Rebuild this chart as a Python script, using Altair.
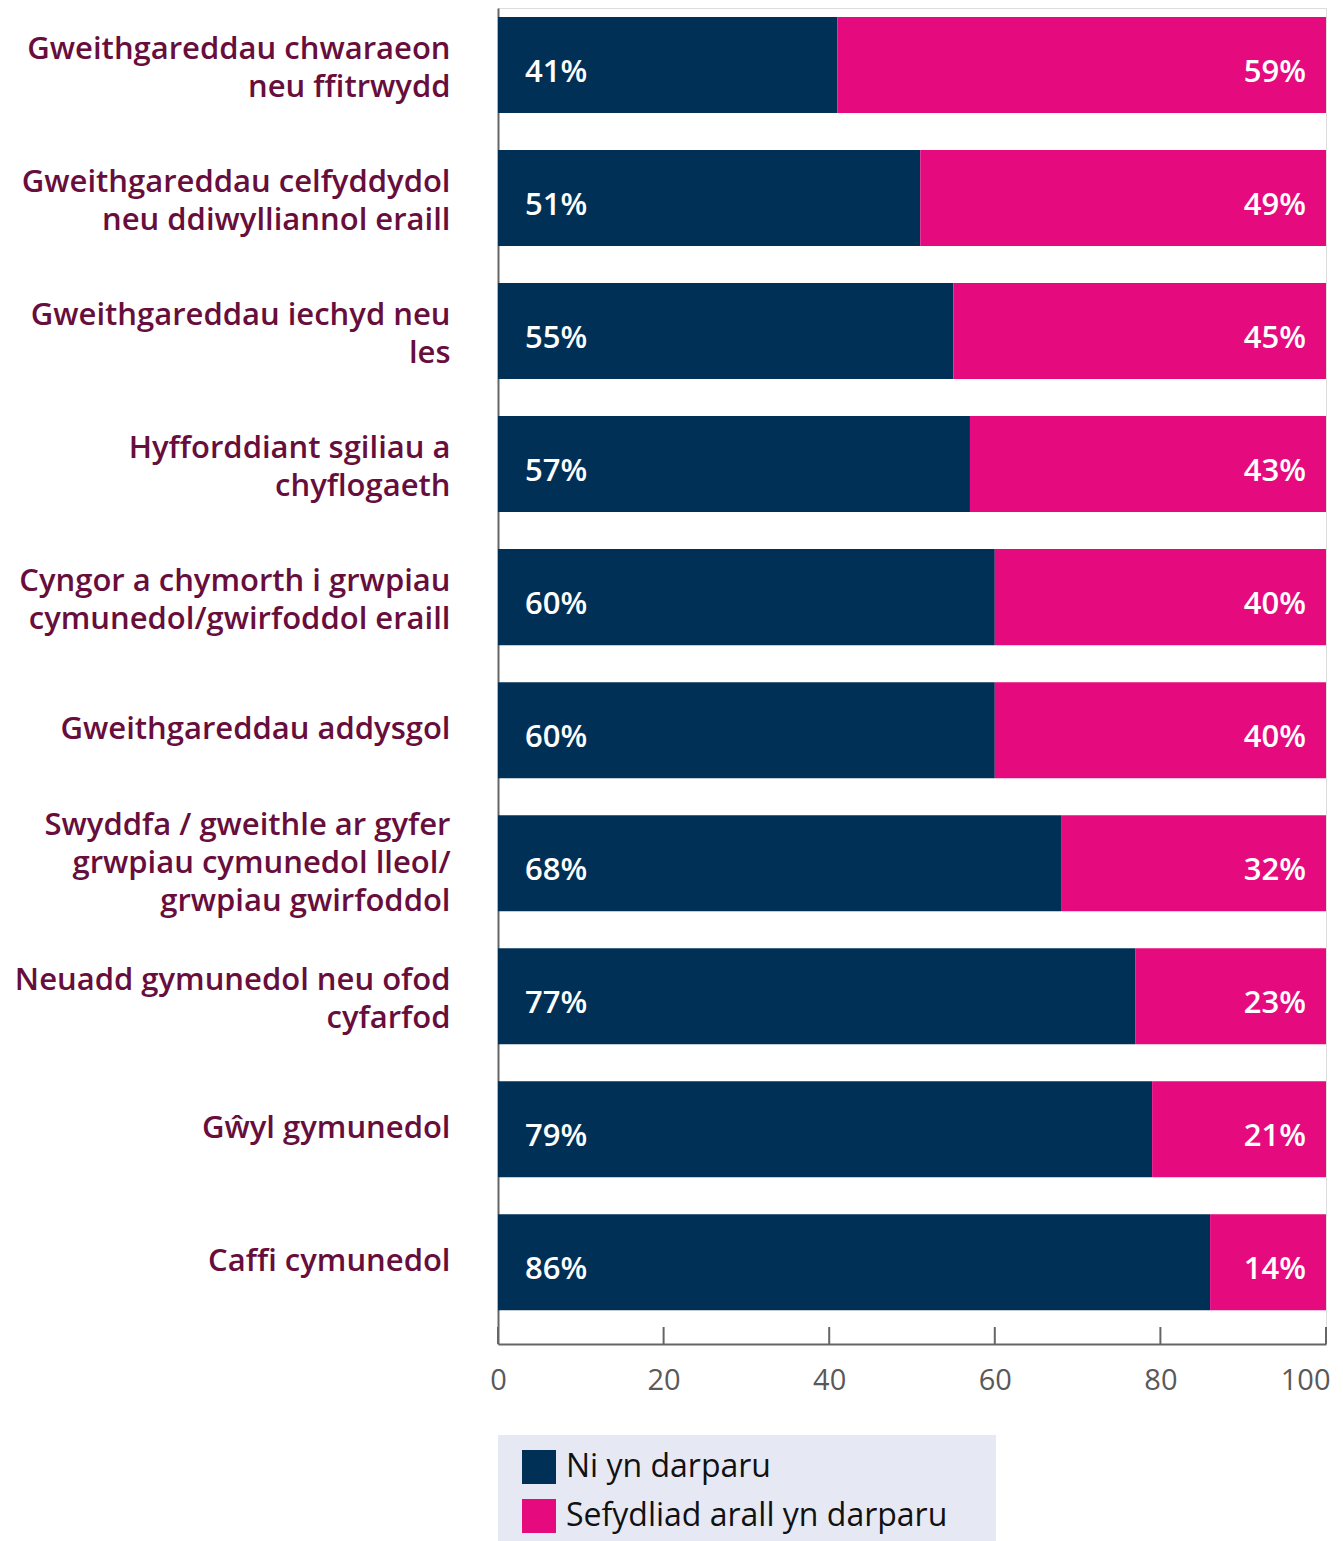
import altair as alt
import pandas as pd

categories = [
    "Gweithgareddau chwaraeon\nneu ffitrwydd",
    "Gweithgareddau celfyddydol\nneu ddiwylliannol eraill",
    "Gweithgareddau iechyd neu\nles",
    "Hyfforddiant sgiliau a\nchyflogaeth",
    "Cyngor a chymorth i grwpiau\ncymunedol/gwirfoddol eraill",
    "Gweithgareddau addysgol",
    "Swyddfa / gweithle ar gyfer\ngrwpiau cymunedol lleol/\ngrwpiau gwirfoddol",
    "Neuadd gymunedol neu ofod\ncyfarfod",
    "Gŵyl gymunedol",
    "Caffi cymunedol",
]
ni_values = [41, 51, 55, 57, 60, 60, 68, 77, 79, 86]
other_values = [59, 49, 45, 43, 40, 40, 32, 23, 21, 14]
series = ["Ni yn darparu", "Sefydliad arall yn darparu"]
colors = ["#013057", "#e50b7e"]
tick_values = [0, 20, 40, 60, 80, 100]

rows = []
for c, a, b in zip(categories, ni_values, other_values):
    rows.append({"category": c, "series": series[0], "value": a, "ord": 0})
    rows.append({"category": c, "series": series[1], "value": b, "ord": 1})
df = pd.DataFrame(rows)
ticks_df = pd.DataFrame({"t": tick_values})

W, H = 828, 1336
FONT = "Open Sans"

nlines = "length(split(datum.value, '\\n'))"

y_enc = alt.Y(
    "category:N",
    sort=categories,
    scale=alt.Scale(paddingInner=0.278, paddingOuter=0.16, align=0.21),
    axis=alt.Axis(
        title=None,
        ticks=False,
        labelExpr="split(datum.label, '\\n')",
        labelFont=FONT,
        labelFontSize=31,
        labelFontWeight=600,
        labelColor="#670e3c",
        labelLineHeight=38,
        labelPadding=48,
        labelLimit=800,
        labelOffset={
            "condition": [
                {"test": nlines + " == 2", "value": -15},
                {"test": nlines + " == 3", "value": -37},
            ],
            "value": 0,
        },
        domainColor="#666666",
        domainWidth=2,
    ),
)

x_scale = alt.Scale(domain=[0, 100], nice=False)

bars = alt.Chart(df).mark_bar().encode(
    x=alt.X(
        "value:Q",
        stack="zero",
        scale=x_scale,
        axis=alt.Axis(
            title=None,
            values=tick_values,
            ticks=False,
            grid=False,
            labelFont=FONT,
            labelFontSize=29,
            labelColor="#595959",
            labelPadding=22,
            domainColor="#666666",
            domainWidth=2,
            labelFlush=False,
            labelAlign={"condition": {"test": "datum.value == 100", "value": "right"}, "value": "center"},
            labelOffset={"condition": {"test": "datum.value == 100", "value": 4}, "value": 0},
        ),
    ),
    y=y_enc,
    color=alt.Color(
        "series:N",
        scale=alt.Scale(domain=series, range=colors),
        legend=alt.Legend(
            title=None,
            orient="none",
            legendX=0,
            legendY=1427,
            direction="vertical",
            fillColor="#e6e9f4",
            padding=15,
            symbolType="square",
            symbolSize=1156,
            symbolStrokeWidth=0,
            symbolOpacity=1,
            symbolOffset=9,
            labelFont=FONT,
            labelFontSize=32,
            labelColor="#111111",
            labelOffset=10,
            rowPadding=15,
            labelLimit=900,
            labelExpr="datum.label + '" + "\u00a0" * 4 + "\u200b'",
        ),
    ),
    order=alt.Order("ord:Q", sort="ascending"),
)

left_text = (
    alt.Chart(df)
    .transform_filter(alt.datum.ord == 0)
    .transform_calculate(lbl="datum.value + '%'")
    .mark_text(align="left", baseline="middle", dx=27, dy=8, font=FONT, fontSize=31, fontWeight=600, color="white")
    .encode(x=alt.datum(0, scale=x_scale), y=alt.Y("category:N", sort=categories), text="lbl:N")
)
right_text = (
    alt.Chart(df)
    .transform_filter(alt.datum.ord == 1)
    .transform_calculate(lbl="datum.value + '%'")
    .mark_text(align="right", baseline="middle", dx=-20, dy=8, font=FONT, fontSize=31, fontWeight=600, color="white")
    .encode(x=alt.datum(100, scale=x_scale), y=alt.Y("category:N", sort=categories), text="lbl:N")
)

tick_rules = alt.Chart(ticks_df).mark_rule(color="#666666", strokeWidth=2).encode(
    x=alt.X("t:Q", scale=x_scale),
    y=alt.value(H - 17),
    y2=alt.value(H),
)

chart = (
    alt.layer(bars, left_text, right_text, tick_rules)
    .properties(
        width=W,
        height=H,
        autosize=alt.AutoSizeParams(type="none"),
        padding={"left": 490, "top": 0, "right": 9, "bottom": 200},
    )
    .configure_view(stroke=None)
    .configure(background="white")
)

chart.save("out.html", embed_options={"renderer": "svg", "actions": False})
